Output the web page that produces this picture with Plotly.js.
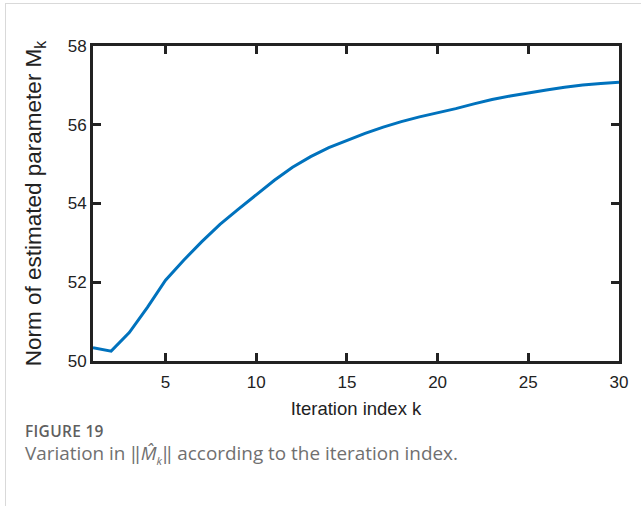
<!DOCTYPE html>
<html>
<head>
<meta charset="utf-8">
<script src="https://cdn.plot.ly/plotly-3.0.1.min.js"></script>
<style>
  html, body { margin: 0; padding: 0; background: #fff; }
  #frame {
    position: absolute; left: 5px; top: 3px; width: 650px; height: 520px;
    border-left: 1px solid #d9d9d9; border-top: 1px solid #d9d9d9;
  }
  #chart { position: absolute; left: 0; top: 0; width: 641px; height: 506px; }
  #caption {
    position: absolute; left: 25px; top: 421px;
    font-family: "Open Sans", "Noto Sans", sans-serif; color: #707070;
  }
  #caption .lbl { font-size: 15.5px; font-weight: 600; color: #5f5f5f; line-height: 20px; letter-spacing: 0.3px; }
  #caption .txt { font-size: 18.9px; line-height: 24px; font-weight: 400; }
  #caption sub { font-size: 11px; line-height: 0; }
</style>
</head>
<body>
<div id="frame"></div>
<div id="chart"></div>
<div id="caption">
  <div class="lbl">FIGURE 19</div>
  <div class="txt">Variation in &#8214;<i>M&#770;</i><sub><i>k</i></sub>&#8214; according to the iteration index.</div>
</div>
<script>
// iteration index k and the norm of the estimated parameter at each step
const iterations = [1, 2, 3, 4, 5, 6, 7, 8, 9, 10, 11, 12, 13, 14, 15,
                    16, 17, 18, 19, 20, 21, 22, 23, 24, 25, 26, 27, 28, 29, 30];
const normMk = [50.34, 50.25, 50.72, 51.36, 52.05, 52.56, 53.03, 53.47, 53.85, 54.23,
                54.59, 54.92, 55.19, 55.42, 55.61, 55.78, 55.94, 56.08, 56.20, 56.30,
                56.41, 56.53, 56.64, 56.73, 56.81, 56.88, 56.95, 57.01, 57.05, 57.08];
const xTicks = [5, 10, 15, 20, 25, 30];
const yTicks = [50, 52, 54, 56, 58];

const axisFont = "'Liberation Sans Narrow', 'Liberation Sans', Arial, sans-serif";

const trace = {
  x: iterations,
  y: normMk,
  type: 'scatter',
  mode: 'lines',
  line: { color: '#0072BD', width: 3 },
  hoverinfo: 'skip'
};

const axisCommon = {
  showgrid: false,
  zeroline: false,
  showline: true,
  linecolor: '#222',
  linewidth: 3,
  mirror: 'ticks',
  ticks: 'inside',
  ticklen: 8,
  tickwidth: 3,
  tickcolor: '#222',
  tickfont: { family: axisFont, size: 17, color: '#222' }
};

const layout = {
  width: 641,
  height: 506,
  margin: { l: 93, r: 22, t: 46, b: 145 },
  paper_bgcolor: 'rgba(0,0,0,0)',
  plot_bgcolor: '#fff',
  showlegend: false,
  xaxis: Object.assign({}, axisCommon, {
    range: [1, 30],
    tickvals: xTicks,
    ticktext: xTicks.map(String),
    ticklabelstandoff: 4,
    title: { text: 'Iteration index k', font: { family: axisFont, size: 18.5, color: '#222' }, standoff: 11 }
  }),
  yaxis: Object.assign({}, axisCommon, {
    range: [50, 58],
    tickvals: yTicks,
    ticktext: yTicks.map(String),
    title: { text: 'Norm of estimated parameter M<sub>k</sub>',
             font: { family: "'Liberation Sans', Arial, sans-serif", size: 22.5, color: '#222' }, standoff: 20 }
  })
};

Plotly.newPlot('chart', [trace], layout, { staticPlot: true, displayModeBar: false });
</script>
</body>
</html>
